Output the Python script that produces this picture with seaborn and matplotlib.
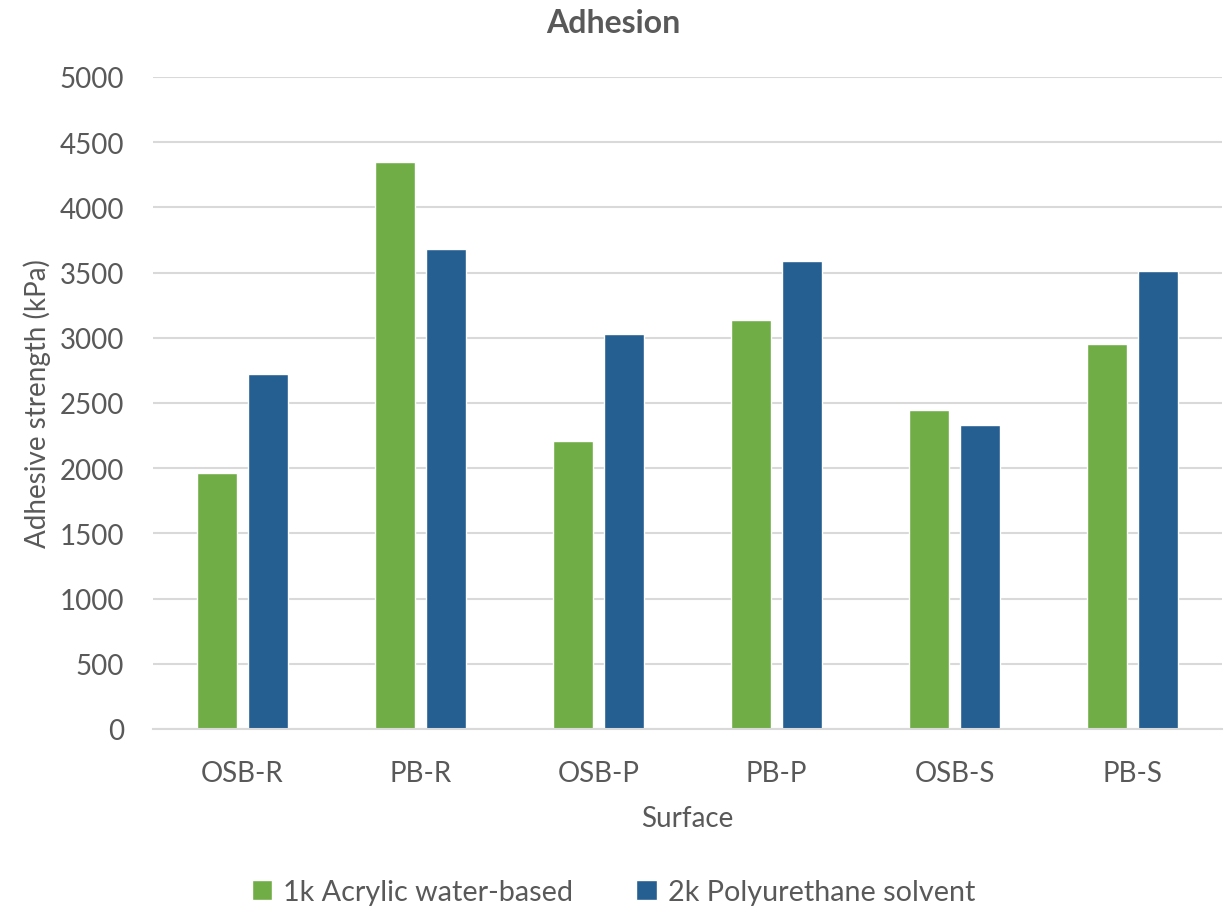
import matplotlib
matplotlib.use("Agg")
import matplotlib.pyplot as plt
import seaborn as sns
import pandas as pd

surfaces = ["OSB-R", "PB-R", "OSB-P", "PB-P", "OSB-S", "PB-S"]
acrylic = [1960, 4350, 2210, 3140, 2450, 2950]
polyurethane = [2720, 3680, 3030, 3590, 2330, 3510]
series_names = ["1k Acrylic water-based", "2k Polyurethane solvent"]
yticks = [0, 500, 1000, 1500, 2000, 2500, 3000, 3500, 4000, 4500, 5000]

df = pd.DataFrame({
    "Surface": surfaces * 2,
    "Value": acrylic + polyurethane,
    "Series": [series_names[0]] * len(surfaces) + [series_names[1]] * len(surfaces),
})

sns.set_theme(style="white")
plt.rcParams["font.family"] = ["Lato", "DejaVu Sans"]
text_color = "#595959"

fig = plt.figure(figsize=(12.27, 9.12), dpi=100)
ax = fig.add_axes([153 / 1227, 1 - 730 / 912, (1222 - 153) / 1227, (730 - 78) / 912])

sns.barplot(data=df, x="Surface", y="Value", hue="Series",
            palette=["#70AD47", "#255E91"], width=0.573, gap=0.215,
            saturation=1, ax=ax, legend=True)

ax.set_ylim(0, 5000)
ax.set_yticks(yticks)
ax.yaxis.grid(True, color="#D9D9D9", linewidth=1.5)
ax.set_axisbelow(True)
for side in ["top", "right", "left"]:
    ax.spines[side].set_visible(False)
ax.spines["bottom"].set_color("#D9D9D9")
ax.spines["bottom"].set_linewidth(1.5)
ax.tick_params(axis="both", length=0, labelsize=20, colors=text_color)
ax.tick_params(axis="y", pad=21)
ax.tick_params(axis="x", pad=22)

ax.set_xlabel("Surface", fontsize=20, color=text_color, labelpad=14)
ax.set_ylabel("Adhesive strength (kPa)", fontsize=20, color=text_color, labelpad=6)
fig.suptitle("Adhesion", fontsize=23, fontweight="bold", color=text_color, y=0.99)

handles, labels = ax.get_legend_handles_labels()
ax.legend_.remove()
fig.legend(handles, labels, loc="lower center", bbox_to_anchor=(0.5, -0.022), ncol=2,
           frameon=False, fontsize=20.7, labelcolor=text_color,
           handlelength=0.7, handleheight=0.7, handletextpad=0.4, columnspacing=2.2)

fig.savefig("out.png", dpi=100)
